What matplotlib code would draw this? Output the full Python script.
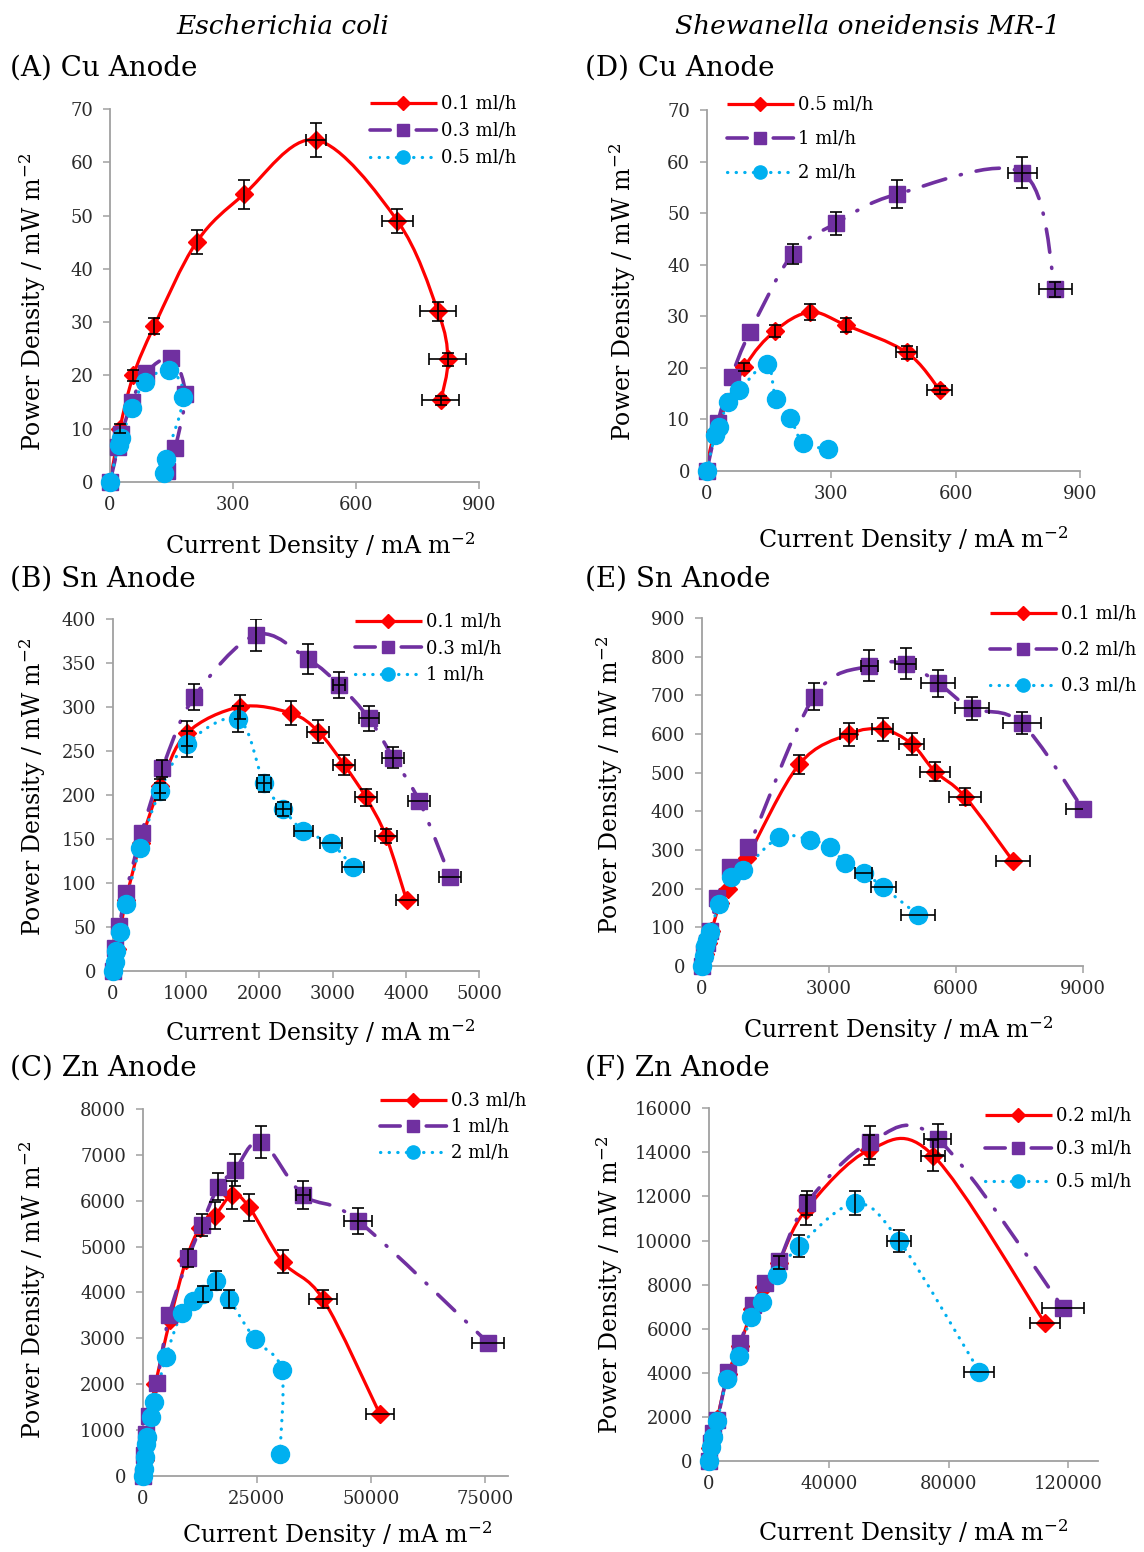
import numpy as np
import matplotlib
matplotlib.use('Agg')
import matplotlib.pyplot as plt
from matplotlib.path import Path
from matplotlib.patches import PathPatch
from matplotlib.lines import Line2D

plt.rcParams['font.family'] = ['DejaVu Serif']
plt.rcParams['mathtext.fontset'] = 'dejavuserif'

# ---------------- data ----------------
# (A) E. coli, Cu anode
A_labels = ['0.1 ml/h', '0.3 ml/h', '0.5 ml/h']
A1_x = [0, 24, 57, 108, 211, 327, 502, 701, 800, 824, 807]
A1_y = [0, 10, 20, 29.3, 45, 54, 64.2, 49, 32, 23, 15.3]
A1_yerr = [0, 0.8, 1, 1.5, 2.2, 2.7, 3.2, 2.3, 1.7, 1.2, 0.8]
A1_xerr = [0, 0, 0, 0, 0, 0, 25, 37, 45, 45, 45]
A2_x = [0, 20, 28, 53, 88, 149, 183, 159, 140]
A2_y = [0, 6.6, 9, 15, 20.5, 23.2, 16.6, 6.4, 2]
A3_x = [0, 21, 28, 53, 86, 144, 179, 136, 132]
A3_y = [0, 7, 8.2, 13.8, 18.8, 21, 16, 4.4, 1.6]

# (D) Shewanella, Cu anode
D_labels = ['0.5 ml/h', '1 ml/h', '2 ml/h']
D1_x = [0, 20, 91, 165, 250, 335, 482, 562]
D1_y = [0, 7.5, 20.1, 27.2, 30.8, 28.3, 23, 15.7]
D1_yerr = [0, 0, 0.8, 1.2, 1.5, 1.3, 1.2, 0.8]
D1_xerr = [0, 0, 0, 0, 0, 0, 25, 30]
D2_x = [0, 26.5, 60, 104, 207, 311, 460, 761, 840]
D2_y = [0, 9.4, 18.3, 26.9, 42.1, 48, 53.7, 57.8, 35.2]
D2_yerr = [0, 0, 0, 0, 2, 2.3, 2.7, 3, 1.5]
D2_xerr = [0, 0, 0, 0, 0, 0, 0, 35, 40]
D3_x = [0, 20, 29.6, 52, 79, 145, 167, 202, 233, 292]
D3_y = [0, 7, 8.6, 13.4, 15.7, 20.7, 13.9, 10.2, 5.4, 4.3]

# (B) E. coli, Sn anode
B_labels = ['0.1 ml/h', '0.3 ml/h', '1 ml/h']
B1_x = [0, 60, 180, 380, 650, 1009, 1736, 2427, 2804, 3158, 3454, 3727, 4009]
B1_y = [0, 25, 80, 145, 210, 270, 300, 293, 272, 234, 197, 153, 80]
B1_yerr = [0, 0, 0, 0, 8, 14, 14, 14, 13, 11, 10, 8, 0]
B1_xerr = [0, 0, 0, 0, 0, 0, 0, 0, 150, 150, 150, 150, 150]
B2_x = [0, 31, 91, 177, 395, 677, 1109, 1954, 2668, 3090, 3495, 3827, 4181, 4600]
B2_y = [0, 25.5, 51, 88, 157, 230, 311, 382, 354, 325, 287, 242, 193, 107]
B2_yerr = [0, 0, 0, 0, 0, 10, 15, 18, 17, 15, 14, 12, 0, 0]
B2_xerr = [0, 0, 0, 0, 0, 0, 0, 0, 0, 80, 140, 150, 150, 150]
B3_x = [0, 30, 45, 100, 181, 372, 645, 1009, 1713, 2063, 2327, 2600, 2977, 3273]
B3_y = [0, 10, 22, 44, 75.5, 140, 204, 258, 286, 213, 184, 159, 145, 118]
B3_yerr = [0, 0, 0, 0, 0, 0, 10, 15, 15, 10, 8, 0, 0, 0]
B3_xerr = [0, 0, 0, 0, 0, 0, 0, 0, 0, 100, 100, 130, 150, 150]

# (E) Shewanella, Sn anode
E_labels = ['0.1 ml/h', '0.2 ml/h', '0.3 ml/h']
E1_x = [0, 80, 150, 230, 432, 628, 1061, 2301, 3473, 4267, 4950, 5501, 6208, 7348]
E1_y = [0, 30, 60, 90, 162, 200, 278, 522, 600, 612, 575, 503, 438, 270]
E1_yerr = [0, 0, 0, 0, 0, 0, 0, 25, 30, 30, 28, 25, 22, 0]
E1_xerr = [0, 0, 0, 0, 0, 0, 0, 0, 200, 250, 300, 350, 380, 400]
E2_x = [0, 55, 120, 200, 368, 667, 1100, 2648, 3952, 4810, 5579, 6366, 7545, 8998]
E2_y = [0, 32, 58, 90, 175, 256, 308, 697, 777, 782, 732, 667, 628, 405]
E2_yerr = [0, 0, 0, 0, 0, 0, 0, 35, 40, 40, 35, 30, 28, 0]
E2_xerr = [0, 0, 0, 0, 0, 0, 0, 0, 200, 250, 400, 400, 450, 400]
E3_x = [0, 50, 80, 118, 196, 408, 683, 981, 1830, 2554, 3025, 3379, 3827, 4283, 5108]
E3_y = [0, 25, 50, 66, 88, 160, 231, 248, 333, 326, 308, 267, 241, 203, 131]
E3_xerr = [0, 0, 0, 0, 0, 0, 0, 0, 0, 0, 0, 0, 200, 300, 400]

# (C) E. coli, Zn anode
C_labels = ['0.3 ml/h', '1 ml/h', '2 ml/h']
C1_x = [0, 400, 900, 1500, 2800, 6000, 9500, 12500, 15840, 19635, 23360, 30675, 39570, 52000]
C1_y = [0, 350, 800, 1300, 2000, 3400, 4700, 5400, 5673, 6125, 5856, 4670, 3848, 1346]
C1_yerr = [0, 0, 0, 0, 0, 0, 0, 0, 300, 300, 300, 250, 200, 0]
C1_xerr = [0, 0, 0, 0, 0, 0, 0, 0, 0, 0, 0, 0, 3000, 3000]
C2_x = [0, 300, 700, 1300, 3070, 5840, 10000, 12930, 16570, 20220, 25920, 35190, 47240, 75730]
C2_y = [0, 450, 920, 1300, 2016, 3507, 4743, 5470, 6306, 6670, 7288, 6125, 5558, 2902]
C2_yerr = [0, 0, 0, 0, 0, 0, 200, 250, 300, 350, 350, 300, 280, 0]
C2_xerr = [0, 0, 0, 0, 0, 0, 0, 0, 0, 0, 0, 1500, 3000, 3500]
C3_x = [0, 200, 500, 700, 1020, 1750, 2560, 5100, 8540, 11090, 13280, 16060, 18975, 24600, 30450, 30080]
C3_y = [0, 150, 415, 700, 850, 1287, 1600, 2596, 3557, 3819, 3965, 4255, 3849, 2976, 2306, 467]
C3_yerr = [0, 0, 0, 0, 0, 0, 0, 0, 0, 0, 180, 200, 200, 0, 0, 0]

# (F) Shewanella, Zn anode
F_labels = ['0.2 ml/h', '0.3 ml/h', '0.5 ml/h']
F1_x = [0, 500, 1200, 2700, 6300, 10200, 14500, 18500, 23300, 32290, 53550, 74910, 112220]
F1_y = [0, 600, 1200, 1900, 3950, 5200, 6900, 7900, 9000, 11388, 14110, 13852, 6248]
F1_yerr = [0, 0, 0, 0, 0, 0, 0, 0, 300, 700, 700, 700, 0]
F1_xerr = [0, 0, 0, 0, 0, 0, 0, 0, 0, 0, 0, 4000, 5000]
F2_x = [0, 560, 1450, 2770, 6450, 10350, 14800, 18700, 23480, 32620, 53770, 76380, 118340]
F2_y = [0, 800, 1250, 1860, 4052, 5340, 7078, 8062, 9088, 11690, 14460, 14596, 6928]
F2_yerr = [0, 0, 0, 0, 0, 0, 0, 0, 0, 550, 750, 700, 0]
F2_xerr = [0, 0, 0, 0, 0, 0, 0, 0, 0, 0, 0, 4500, 7000]
F3_x = [0, 700, 1450, 2770, 6120, 10020, 13920, 17800, 22820, 30160, 48770, 63560, 90300]
F3_y = [0, 650, 1100, 1830, 3735, 4780, 6520, 7230, 8440, 9770, 11690, 9980, 4050]
F3_yerr = [0, 0, 0, 0, 0, 0, 0, 0, 0, 500, 550, 500, 0]
F3_xerr = [0, 0, 0, 0, 0, 0, 0, 0, 0, 0, 0, 4000, 5000]

# ---------------- styling ----------------
W, H = 1144, 1552
fig = plt.figure(figsize=(W / 100, H / 100), dpi=100)


def fx(px):
    return px / W


def fy(py):
    return 1 - py / H


RED = '#FF0000'
PURPLE = '#7030A0'
CYAN = '#00B0F0'
SPINE = '#A0A0A0'
TICKTXT = '#2a2a2a'

STY = [
    dict(color=RED, lw=2.3, ls='-', marker='D', ms=9.5, lms=7, lls='-'),
    dict(color=PURPLE, lw=2.6, ls=(0, (6.5, 4.2, 0.3, 4.2)), marker='s', ms=12, lms=8.5,
         lls=(0, (5.6, 7.2))),
    dict(color=CYAN, lw=2.3, ls=(0, (0.1, 2.6)), marker='o', ms=13, lms=9.5, lls=(0, (0.1, 2.6))),
]


def smooth_path(x, y):
    x = np.asarray(x, float)
    y = np.asarray(y, float)
    n = len(x)
    P = np.column_stack([x, y])
    verts = [tuple(P[0])]
    codes = [Path.MOVETO]
    for i in range(n - 1):
        pm = P[max(i - 1, 0)]
        p0 = P[i]
        p1 = P[i + 1]
        p2 = P[min(i + 2, n - 1)]
        c1 = p0 + (p1 - pm) / 6.0
        c2 = p1 - (p2 - p0) / 6.0
        verts += [tuple(c1), tuple(c2), tuple(p1)]
        codes += [Path.CURVE4] * 3
    return Path(verts, codes)


def panel(rect_px, xlim, xticks, ylim, yticks, series, labels, leg_px, leg_pitch):
    l, r, t, b = rect_px
    ax = fig.add_axes([fx(l), fy(b), (r - l) / W, (b - t) / H])
    ax.set_xlim(*xlim)
    ax.set_ylim(*ylim)
    ax.set_xticks(xticks)
    ax.set_yticks(yticks)
    for s in ['top', 'right']:
        ax.spines[s].set_visible(False)
    for s in ['left', 'bottom']:
        ax.spines[s].set_color(SPINE)
        ax.spines[s].set_linewidth(1.3)
    ax.tick_params(axis='both', colors=SPINE, labelcolor=TICKTXT, labelsize=13,
                   length=5, width=1.1, direction='out')
    ax.tick_params(axis='y', pad=7)
    ax.tick_params(axis='x', pad=5)
    ax.patch.set_alpha(0)

    for k, s in enumerate(series):
        st = STY[k]
        x, y = s['x'], s['y']
        patch = PathPatch(smooth_path(x, y), fill=False, edgecolor=st['color'],
                          lw=st['lw'], linestyle=st['ls'], capstyle='round',
                          joinstyle='round', zorder=2 + k * 0.1, clip_on=False)
        ax.add_patch(patch)
        ax.plot(x, y, ls='none', marker=st['marker'], ms=st['ms'], color=st['color'],
                mec=st['color'], zorder=3 + k * 0.1, clip_on=False)
        xa = np.asarray(x, float)
        ya = np.asarray(y, float)
        if 'yerr' in s:
            ye = np.asarray(s['yerr'], float)
            m = ye > 0
            if m.any():
                ax.errorbar(xa[m], ya[m], yerr=ye[m], fmt='none', ecolor='black',
                            elinewidth=1.2, capsize=4, capthick=1.2, zorder=5)
        if 'xerr' in s:
            xe = np.asarray(s['xerr'], float)
            m = xe > 0
            if m.any():
                ax.errorbar(xa[m], ya[m], xerr=xe[m], fmt='none', ecolor='black',
                            elinewidth=1.2, capsize=4, capthick=1.2, zorder=5)

    handles = [Line2D([], [], color=STY[k]['color'], lw=STY[k]['lw'], ls=STY[k]['lls'],
                      marker=STY[k]['marker'], ms=STY[k]['lms'],
                      dash_capstyle='round', solid_capstyle='butt')
               for k in range(len(series))]
    fs = 13
    fs_px = fs * 100 / 72
    txt_h = 1.0 * fs_px
    spacing = max((leg_pitch - txt_h) / fs_px, 0.05)
    hx, hy = leg_px
    ax.legend(handles, labels, loc='upper left',
              bbox_to_anchor=(fx(hx), fy(hy - txt_h / 2)), bbox_transform=fig.transFigure,
              frameon=False, fontsize=fs, handlelength=3.7, handletextpad=0.25,
              labelspacing=spacing, borderpad=0, borderaxespad=0)
    return ax


def S(x, y, yerr=None, xerr=None):
    d = dict(x=x, y=y)
    if yerr is not None:
        d['yerr'] = yerr
    if xerr is not None:
        d['xerr'] = xerr
    return d


panel((110, 479, 109, 482), (0, 900), [0, 300, 600, 900], (0, 70), range(0, 71, 10),
      [S(A1_x, A1_y, A1_yerr, A1_xerr), S(A2_x, A2_y), S(A3_x, A3_y)],
      A_labels, (370, 104), 27)
panel((706.7, 1080, 110, 471), (0, 900), [0, 300, 600, 900], (0, 70), range(0, 71, 10),
      [S(D1_x, D1_y, D1_yerr, D1_xerr), S(D2_x, D2_y, D2_yerr, D2_xerr), S(D3_x, D3_y)],
      D_labels, (727, 105), 34)
panel((112.7, 479.3, 619, 970.7), (0, 5000), [0, 1000, 2000, 3000, 4000, 5000], (0, 400),
      range(0, 401, 50),
      [S(B1_x, B1_y, B1_yerr, B1_xerr), S(B2_x, B2_y, B2_yerr, B2_xerr), S(B3_x, B3_y, B3_yerr, B3_xerr)],
      B_labels, (355, 622), 26.5)
panel((701.7, 1083.3, 618.3, 965.7), (0, 9000), [0, 3000, 6000, 9000], (0, 900),
      range(0, 901, 100),
      [S(E1_x, E1_y, E1_yerr, E1_xerr), S(E2_x, E2_y, E2_yerr, E2_xerr), S(E3_x, E3_y, None, E3_xerr)],
      E_labels, (990, 614), 36)
panel((142.7, 507.5, 1109, 1475.7), (0, 80000), [0, 25000, 50000, 75000], (0, 8000),
      range(0, 8001, 1000),
      [S(C1_x, C1_y, C1_yerr, C1_xerr), S(C2_x, C2_y, C2_yerr, C2_xerr), S(C3_x, C3_y, C3_yerr)],
      C_labels, (380, 1101), 26)
panel((709, 1098.3, 1108.3, 1461), (0, 130000), [0, 40000, 80000, 120000], (0, 16000),
      range(0, 16001, 2000),
      [S(F1_x, F1_y, F1_yerr, F1_xerr), S(F2_x, F2_y, F2_yerr, F2_xerr), S(F3_x, F3_y, F3_yerr, F3_xerr)],
      F_labels, (985, 1116), 33)

# ---------------- texts ----------------
XLAB = 'Current Density / mA m$^{-2}$'
YLAB = 'Power Density / mW m$^{-2}$'
LAB_FS = 17
for (x, y) in [(320, 546), (913, 540), (320, 1033), (898, 1030), (337, 1535), (913, 1533)]:
    fig.text(fx(x), fy(y), XLAB, ha='center', va='center', fontsize=LAB_FS)
for (x, y) in [(33, 302), (623, 292), (33, 787), (610, 785), (33, 1290), (610, 1285)]:
    fig.text(fx(x), fy(y), YLAB, ha='center', va='center', rotation=90, fontsize=LAB_FS)

TIT_FS = 20
for (x, y, s) in [(10, 68, '(A) Cu Anode'), (10, 579, '(B) Sn Anode'), (10, 1068, '(C) Zn Anode'),
                  (585, 68, '(D) Cu Anode'), (585, 579, '(E) Sn Anode'), (585, 1068, '(F) Zn Anode')]:
    fig.text(fx(x), fy(y), s, ha='left', va='center', fontsize=TIT_FS)

fig.text(fx(283), fy(27), 'Escherichia coli', ha='center', va='center', fontsize=19, style='italic')
fig.text(fx(868), fy(27), 'Shewanella oneidensis MR-1', ha='center', va='center', fontsize=19,
         style='italic')

fig.savefig('out.png', dpi=100)
